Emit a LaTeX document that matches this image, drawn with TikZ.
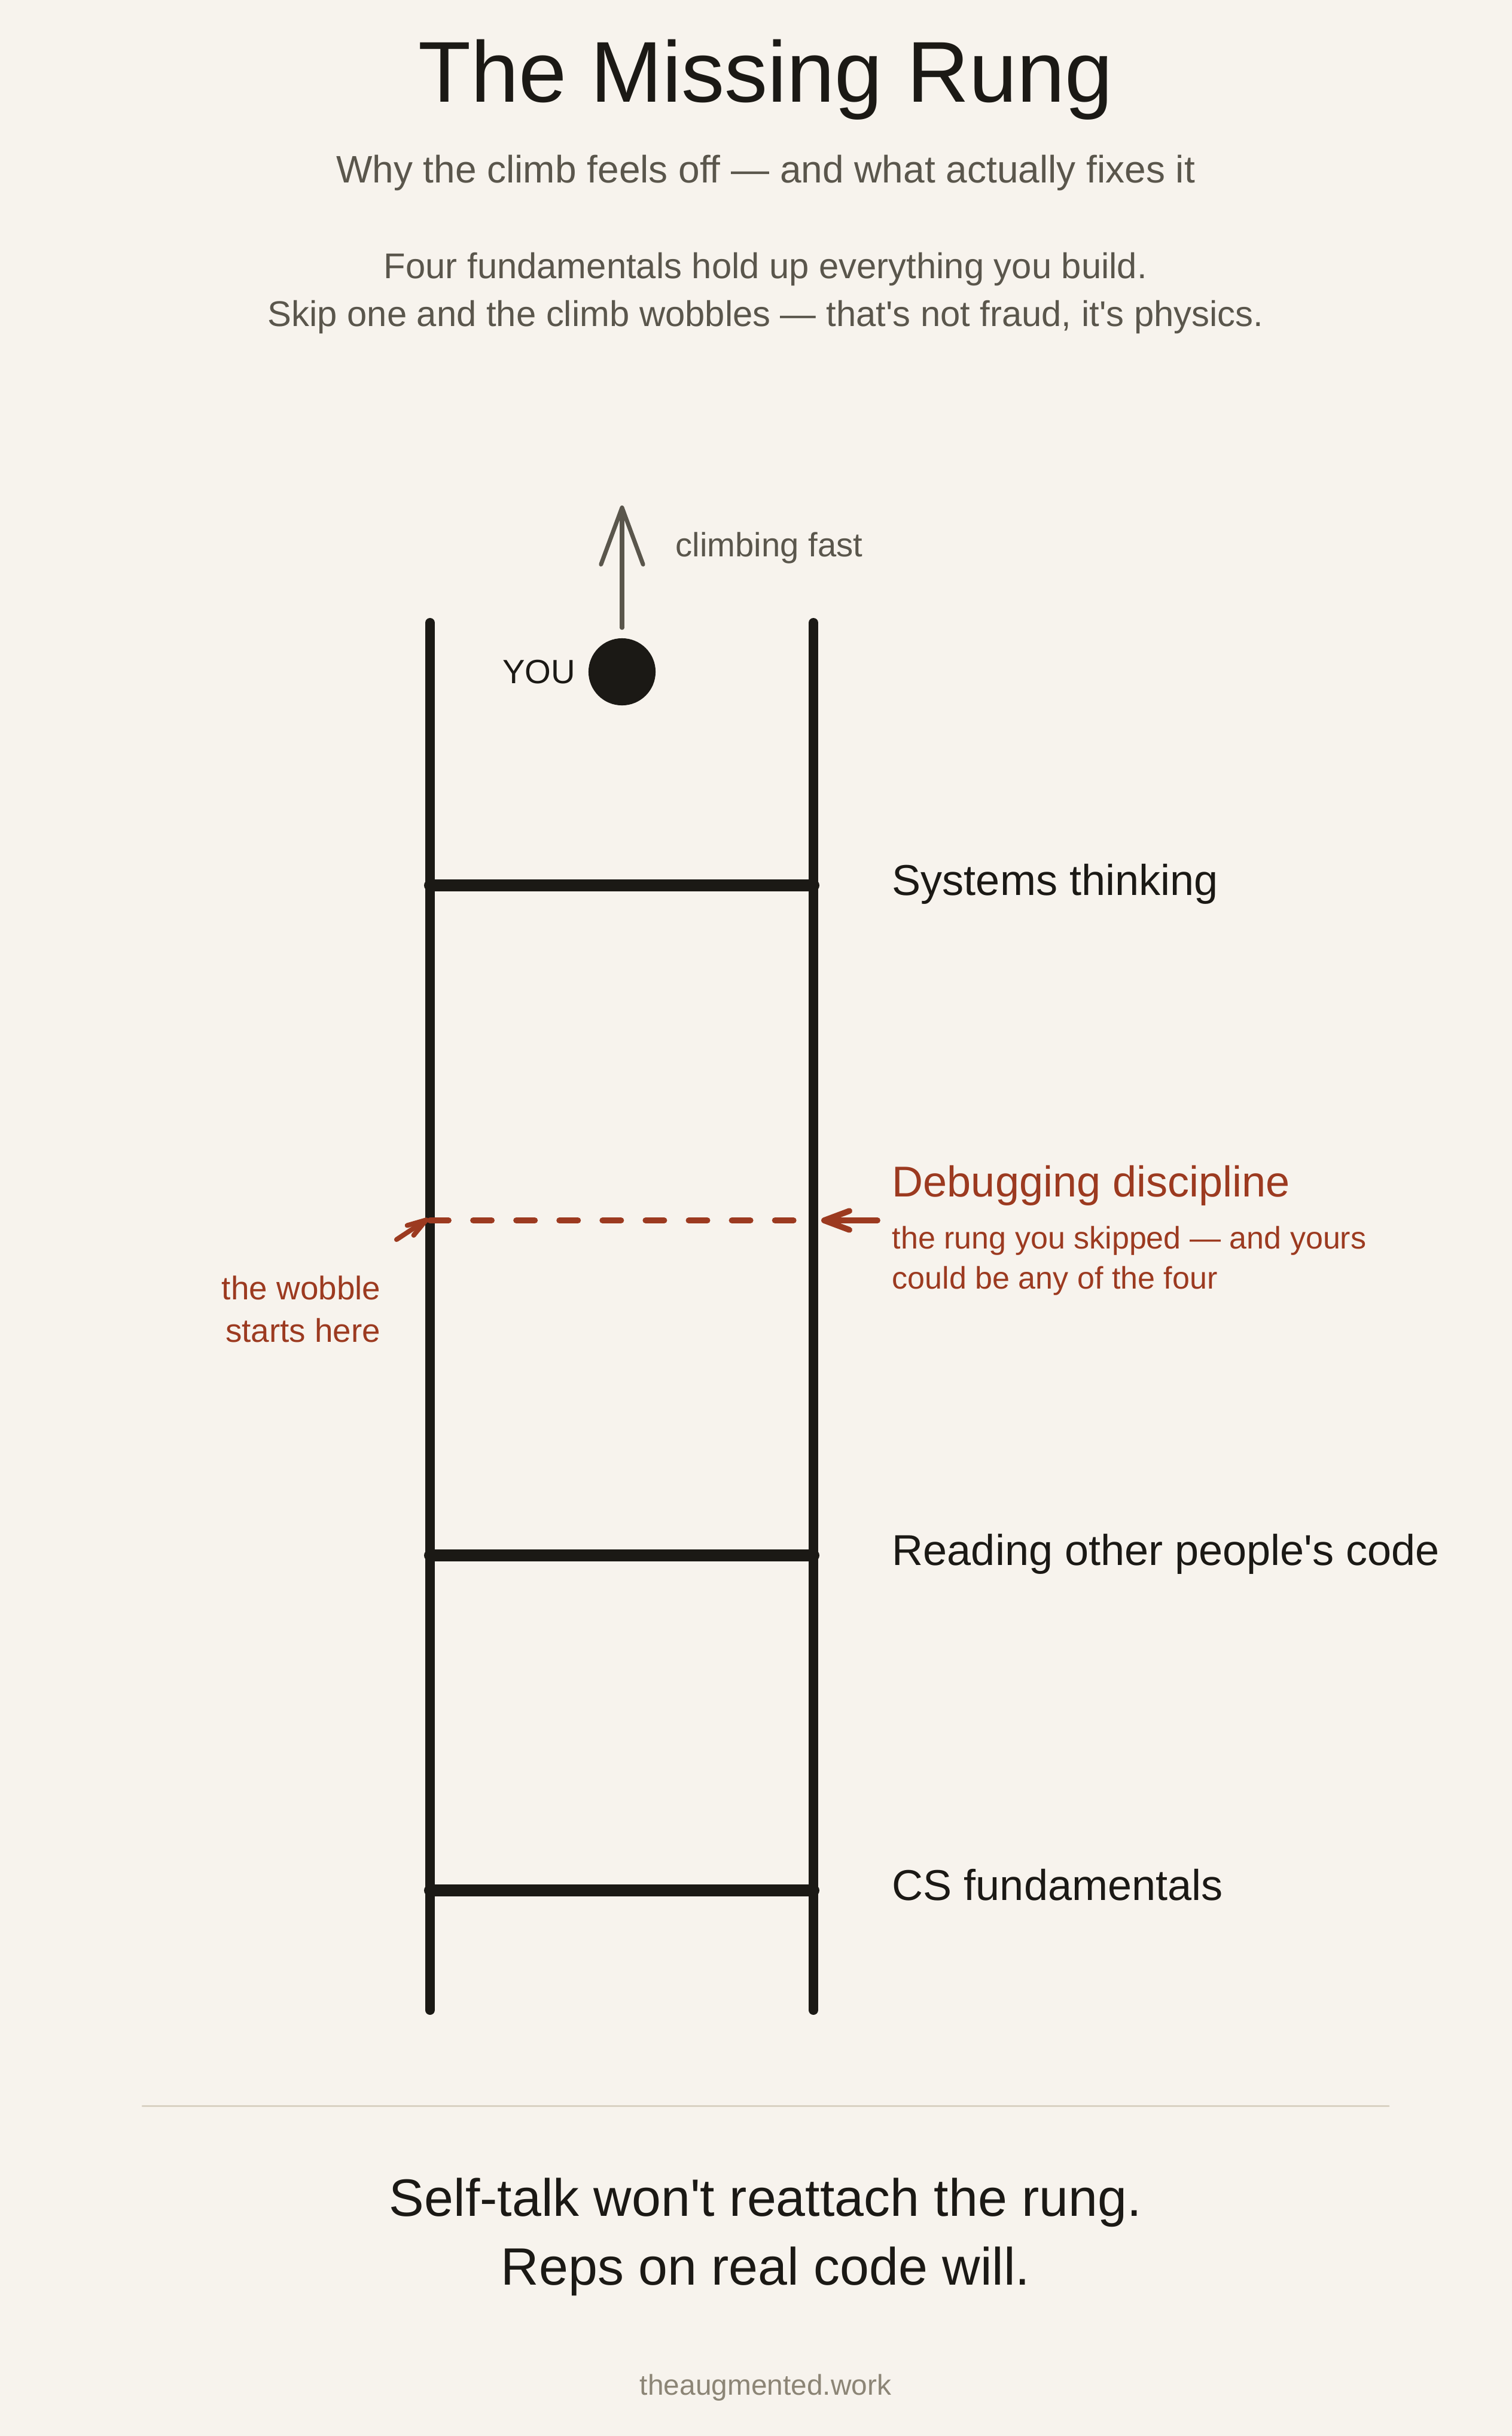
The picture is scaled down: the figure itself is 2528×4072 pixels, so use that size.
\documentclass[tikz,border=0pt]{standalone}
\usepackage{fontspec}
\setmainfont{Liberation Sans}[Ligatures=TeXOff]
\usetikzlibrary{arrows.meta}
\usepackage{xcolor}
\definecolor{paper}{HTML}{F7F3ED}
\definecolor{ink}{HTML}{1B1915}
\definecolor{muted}{HTML}{5A564C}
\definecolor{rust}{HTML}{9C3A20}
\definecolor{faint}{HTML}{8C8576}
\definecolor{rulegray}{HTML}{D9D1C3}

\begin{document}
\begin{tikzpicture}[x=0.01cm,y=-0.01cm,line cap=round,
  every node/.style={inner sep=0pt},
  title/.style={font=\fontsize{41}{48}\selectfont,text=ink,anchor=base},
  subtitle/.style={font=\fontsize{18.2}{22}\selectfont,text=muted,anchor=base},
  lede/.style={font=\fontsize{17}{20}\selectfont,text=muted,anchor=base},
  rail/.style={ink,line width=4.55pt},
  rungline/.style={ink,line width=5.7pt},
  gaprung/.style={rust,line width=2.85pt,dash pattern=on 8.8pt off 11.7pt},
  rungname/.style={font=\fontsize{20.5}{24}\selectfont,text=ink,anchor=base west},
  note/.style={font=\fontsize{14.8}{18}\selectfont,text=rust,anchor=base west},
  wobble/.style={font=\fontsize{15.6}{19}\selectfont,text=rust,anchor=base east},
  small/.style={font=\fontsize{16}{19}\selectfont},
  climb/.style={muted,line width=2pt,-{Straight Barb[round,length=27pt,width=20pt]}},
  pointer/.style={rust,line width=2.8pt,-{Straight Barb[round,length=12pt,width=9pt]}},
  tinypointer/.style={rust,line width=2.3pt,-{Straight Barb[round,length=9pt,width=5.6pt]}},
  closing/.style={font=\fontsize{25}{29}\selectfont,text=ink,anchor=base},
  site/.style={font=\fontsize{13.6}{16}\selectfont,text=faint,anchor=base}]
\fill[paper] (0,0) rectangle (2528,4072);
\useasboundingbox (0,0) rectangle (2528,4072);

\node[title] (head) at (1280,170) {The Missing Rung};
\node[subtitle] (subhead) at (1280,305) {Why the climb feels off — and what actually fixes it};
\node[lede] (lede1) at (1280,465) {Four fundamentals hold up everything you build.};
\node[lede] (lede2) at (1280,545) {Skip one and the climb wobbles — that's not fraud, it's physics.};

\coordinate (lt) at (719,1041);
\coordinate (lb) at (719,3360);
\coordinate (rt) at (1360,1041);
\coordinate (rb) at (1360,3360);
\draw[rail] (lt) -- (lb);
\draw[rail] (rt) -- (rb);
\foreach \y in {1480,2600,3160}
  \draw[rungline] (719,\y) -- (1360,\y);
\draw[gaprung] (719,2040) -- (1360,2040);

\foreach \y/\t in {1480/Systems thinking,2600/Reading other people's code,3160/CS fundamentals}
  \node[rungname] (name\y) at (1491,\y+16) {\t};
\node[rungname,text=rust] (gapname) at (1491,2000) {Debugging discipline};
\node[note] (note1) at (1491,2087) {the rung you skipped — and yours};
\node[note] (note2) at (1491,2154) {could be any of the four};
\node[wobble] (wob1) at (637,2172) {the wobble};
\node[wobble] (wob2) at (637,2243) {starts here};

\coordinate (ntail) at (1467,2040);
\coordinate (ntip) at (1373,2040);
\draw[pointer] (ntail) -- (ntip);
\coordinate (wtail) at (663,2072);
\coordinate (wtip) at (716,2037);
\draw[tinypointer] (wtail) -- (wtip);

\node[circle,fill=ink,minimum size=31.9pt] (you) at (1040,1123) {};
\node[small,text=ink,anchor=base east] (youtag) at (963,1142) {YOU};
\coordinate (ahead) at (1040,845);
\draw[climb] ([yshift=4.8pt]you.north) -- (ahead);
\node[small,text=muted,anchor=base west] (fast) at (1129,930) {climbing fast};

\draw[rulegray,line width=0.85pt] (238,3520) -- (2322,3520);
\node[closing] (close1) at (1280,3704) {Self-talk won't reattach the rung.};
\node[closing] (close2) at (1280,3819) {Reps on real code will.};
\node[site] (url) at (1280,4003) {theaugmented.work};
\end{tikzpicture}
\end{document}
